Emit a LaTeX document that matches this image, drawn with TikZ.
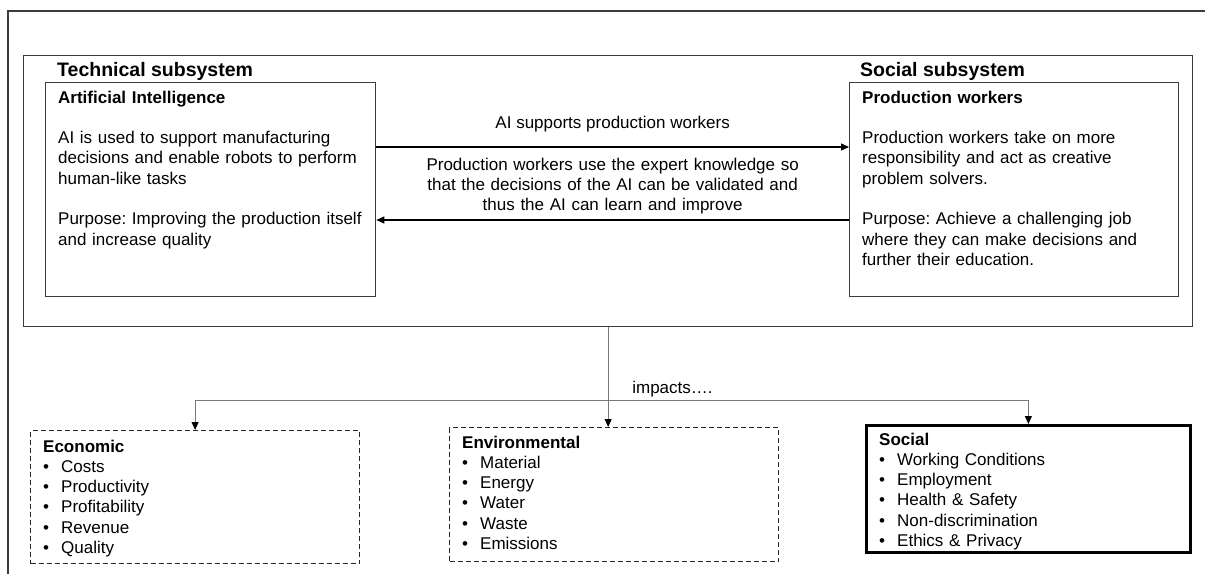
\documentclass[tikz,border=0pt]{standalone}
\usepackage{fontspec}
\setmainfont{Liberation Sans}
\usepackage{tikz}
\usetikzlibrary{arrows.meta, positioning, calc}
\definecolor{framegray}{RGB}{60, 60, 60}
\definecolor{linkgray}{RGB}{120, 120, 120}
\newcommand{\bul}[1]{\makebox[18pt][l]{\textbullet}#1}
\frenchspacing

\begin{document}
\begin{tikzpicture}[x=1pt, y=-1pt,
  panel/.style={draw=framegray, line width=1.3pt, anchor=north west, inner sep=0pt},
  impactbox/.style={draw=black!85, line width=1.2pt, dash pattern=on 5pt off 3pt, anchor=north west, inner sep=0pt},
  body/.style={anchor=base west, inner sep=0pt, text width=320pt, align=left, font=\fontsize{17}{20.3}\selectfont},
  label/.style={inner sep=0pt, font=\fontsize{17}{20.3}\selectfont},
  heading/.style={anchor=base west, inner sep=0pt, font=\fontsize{19.5}{23}\selectfont\bfseries},
  flow/.style={draw=black, line width=1.2pt, -{Triangle[length=8pt, width=7pt]}},
  link/.style={draw=linkgray, line width=1pt, -{Triangle[length=8pt, width=7pt, color=black]}}
]
\useasboundingbox (0,0) rectangle (1205,574);
% page frame, top and left edge only
\draw[framegray, line width=1.2pt] (1205,11) -- (8,11) -- (8,574);

% the socio-technical system and its two subsystems
\node[panel, minimum width=1169pt, minimum height=271pt] (sys) at (23,55) {};
\node[panel, minimum width=330pt, minimum height=214pt] (ai) at (45,82) {};
\node[panel, minimum width=329pt, minimum height=214pt] (pw) at (849,82) {};

\node[heading] (techtitle) at ([xshift=12pt, yshift=6pt]ai.north west) {Technical subsystem};
\node[heading] (socialtitle) at ([xshift=11pt, yshift=6pt]pw.north west) {Social subsystem};

\node[body] (aitext) at ([xshift=13pt, yshift=-21pt]ai.north west) {
  \textbf{Artificial Intelligence}\\[20.3pt]
  AI is used to support manufacturing\\
  decisions and enable robots to perform\\
  human-like tasks\\[20.3pt]
  Purpose: Improving the production itself\\
  and increase quality};
\node[body] (pwtext) at ([xshift=13pt, yshift=-21pt]pw.north west) {
  \textbf{Production workers}\\[20.3pt]
  Production workers take on more\\
  responsibility and act as creative\\
  problem solvers.\\[20.3pt]
  Purpose: Achieve a challenging job\\
  where they can make decisions and\\
  further their education.};

% interaction between the subsystems
\draw[flow] ([yshift=-65pt]ai.north east) -- node[label, midway, anchor=base, yshift=19pt] (supports) {AI supports production workers} ([yshift=-65pt]pw.north west);
\draw[flow] ([yshift=-138pt]pw.north west) -- node[label, midway, anchor=base, yshift=50pt, text width=390pt, align=center] (feedback) {Production workers use the expert knowledge so\\that the decisions of the AI can be validated and\\thus the AI can learn and improve} ([yshift=-138pt]ai.north east);

% sustainability dimensions
\node[impactbox, minimum width=329pt, minimum height=133pt] (econ) at (30,430) {};
\node[impactbox, minimum width=329pt, minimum height=134pt] (env) at (449,427) {};
\node[panel, draw=black, line width=2.8pt, minimum width=324pt, minimum height=127pt] (soc) at (865,424) {};

\node[body] (econtext) at ([xshift=13pt, yshift=-22pt]econ.north west) {
  \textbf{Economic}\\
  \bul{Costs}\\
  \bul{Productivity}\\
  \bul{Profitability}\\
  \bul{Revenue}\\
  \bul{Quality}};
\node[body] (envtext) at ([xshift=13pt, yshift=-21pt]env.north west) {
  \textbf{Environmental}\\
  \bul{Material}\\
  \bul{Energy}\\
  \bul{Water}\\
  \bul{Waste}\\
  \bul{Emissions}};
\node[body] (soctext) at ([xshift=14pt, yshift=-21pt]soc.north west) {
  \textbf{Social}\\
  \bul{Working Conditions}\\
  \bul{Employment}\\
  \bul{Health \& Safety}\\
  \bul{Non-discrimination}\\
  \bul{Ethics \& Privacy}};

% impact connectors
\coordinate (split) at ([yshift=-73pt]sys.south);
\draw[link] (sys.south) -- (sys.south |- env.north);
\draw[link] (split) -| (econ.north);
\draw[link] (split) -| (soc.north);
\node[label, anchor=base west] (impacts) at ([xshift=24pt, yshift=7pt]split) {impacts….};
\end{tikzpicture}
\end{document}
